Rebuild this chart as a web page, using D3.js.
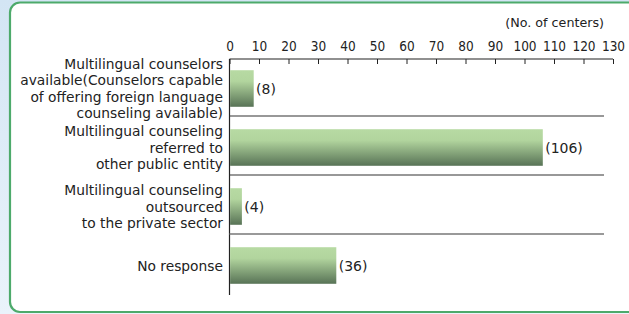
<!DOCTYPE html>
<html>
<head>
<meta charset="utf-8">
<script src="https://cdn.jsdelivr.net/npm/d3@7"></script>
<style>
  body { margin: 0; }
  svg { display: block; font-family: "DejaVu Sans", sans-serif; }
</style>
</head>
<body>
<svg id="chart" width="629" height="314"></svg>
<script>
const categories = [
  ['Multilingual counselors', 'available(Counselors capable', 'of offering foreign language', 'counseling available)'],
  ['Multilingual counseling', 'referred to', 'other public entity'],
  ['Multilingual counseling', 'outsourced', 'to the private sector'],
  ['No response']
]
const values = [8, 106, 4, 36]
const tickValues = [0, 10, 20, 30, 40, 50, 60, 70, 80, 90, 100, 110, 120, 130]
const unitLabel = '(No. of centers)'

const svg = d3.select('#chart')
const W = 629
const H = 314

// page background + frame
const defs = svg.append('defs')
const bg = defs.append('linearGradient').attr('id', 'bg')
  .attr('x1', 0).attr('y1', 0).attr('x2', 0).attr('y2', 1)
bg.append('stop').attr('offset', '0%').attr('stop-color', '#d3e5f4')
bg.append('stop').attr('offset', '100%').attr('stop-color', '#eaf3fb')

const barGrad = defs.append('linearGradient').attr('id', 'bar')
  .attr('x1', 0).attr('y1', 0).attr('x2', 0).attr('y2', 1)
barGrad.append('stop').attr('offset', '0%').attr('stop-color', '#b7daa3')
barGrad.append('stop').attr('offset', '30%').attr('stop-color', '#b2d59e')
barGrad.append('stop').attr('offset', '100%').attr('stop-color', '#587356')

svg.append('rect').attr('width', W).attr('height', H).attr('fill', 'url(#bg)')
svg.append('rect')
  .attr('x', 10).attr('y', 2.5)
  .attr('width', 660).attr('height', 309.5)
  .attr('rx', 10)
  .attr('fill', '#fff')
  .attr('stroke', '#4daa6b')
  .attr('stroke-width', 2.2)

const x = d3.scaleLinear().domain([0, 130]).range([229.5, 613])
const y = d3.scaleBand()
  .domain(d3.range(categories.length))
  .range([59, 295])
  .paddingInner(0.38)
  .paddingOuter(0.19)

const step = y.step()
const axisY = 59

// unit label
svg.append('text')
  .attr('x', 604).attr('y', 27)
  .attr('text-anchor', 'end')
  .attr('font-size', 12.7)
  .attr('fill', '#222')
  .text(unitLabel)

// top axis
const xAxis = d3.axisTop(x).tickValues(tickValues).tickSize(-5).tickPadding(8)
const gx = svg.append('g')
  .attr('transform', `translate(0,${axisY})`)
  .call(xAxis)
gx.select('.domain').remove()
gx.append('line')
  .attr('x1', x(0)).attr('x2', x(130))
  .attr('stroke', '#222').attr('stroke-width', 1.2)
gx.selectAll('.tick line').attr('stroke', '#222')
gx.selectAll('.tick text')
  .attr('font-size', 13.5)
  .attr('fill', '#222')
  .attr('font-family', '"Liberation Sans Narrow", "DejaVu Sans Condensed", "Liberation Sans", sans-serif')

// vertical axis line
svg.append('line')
  .attr('x1', x(0)).attr('x2', x(0))
  .attr('y1', axisY).attr('y2', 295)
  .attr('stroke', '#222').attr('stroke-width', 1.2)

// separators
svg.append('g').selectAll('line')
  .data(d3.range(1, categories.length))
  .join('line')
  .attr('x1', x(0)).attr('x2', 604)
  .attr('y1', i => axisY + i * step - 2)
  .attr('y2', i => axisY + i * step - 2)
  .attr('stroke', (i) => i === 3 ? '#777' : '#333')
  .attr('stroke-width', (i) => i === 3 ? 1.6 : 1.2)

// bars
svg.append('g').selectAll('rect')
  .data(values)
  .join('rect')
  .attr('x', x(0) + 0.6)
  .attr('y', (d, i) => y(i))
  .attr('width', d => x(d) - x(0))
  .attr('height', y.bandwidth())
  .attr('fill', 'url(#bar)')

// value labels
svg.append('g').selectAll('text')
  .data(values)
  .join('text')
  .attr('x', d => x(d) + 3)
  .attr('y', (d, i) => y(i) + y.bandwidth() / 2 + 5)
  .attr('font-size', 14)
  .attr('fill', '#222')
  .text(d => `(${d})`)

// category labels
const lineH = 16.4
svg.append('g').selectAll('text')
  .data(categories)
  .join('text')
  .attr('text-anchor', 'end')
  .attr('font-size', 13.8)
  .attr('fill', '#222')
  .each(function (lines, i) {
    const cy = y(i) + y.bandwidth() / 2
    const first = cy - (lines.length - 1) * lineH / 2 + 5
    d3.select(this).selectAll('tspan')
      .data(lines)
      .join('tspan')
      .attr('x', 223)
      .attr('y', (d, j) => first + j * lineH)
      .text(d => d)
  })
</script>
</body>
</html>
